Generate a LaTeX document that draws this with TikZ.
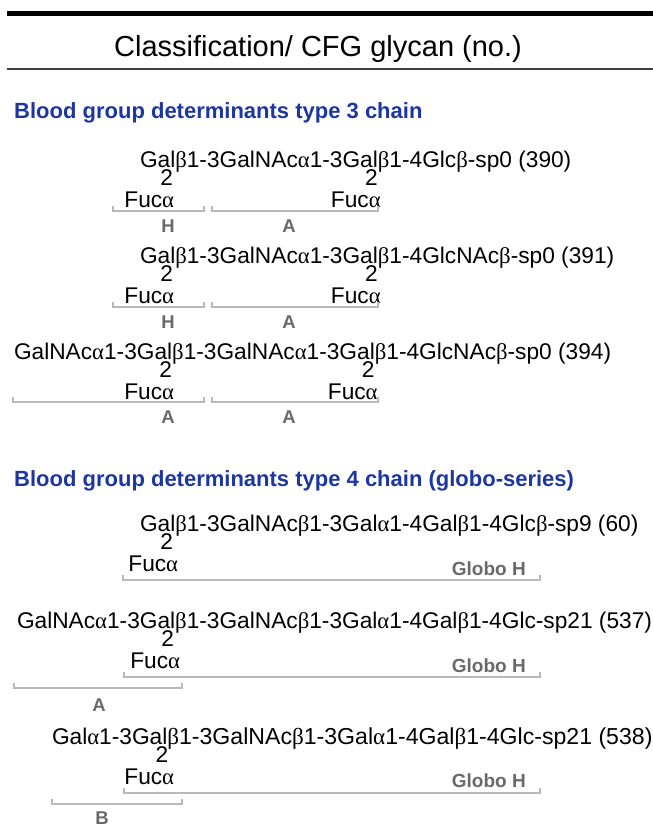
\documentclass[tikz,border=0pt]{standalone}
\usepackage{fontspec}
\setmainfont{Liberation Sans}
\newfontfamily\gkfont{Liberation Serif}
\newcommand{\galpha}{{\gkfont α}}
\newcommand{\gbeta}{{\gkfont β}}
\usetikzlibrary{calc}
\definecolor{headblue}{RGB}{30,55,160}
\definecolor{labgray}{RGB}{105,105,105}
\definecolor{brkgray}{RGB}{185,185,185}
\begin{document}
\begin{tikzpicture}[x=1pt,y=-1pt,
  gly/.style={anchor=base west,inner sep=0pt,outer sep=0pt,font=\fontsize{22.7}{24}\selectfont},
  two/.style={anchor=base,inner sep=0pt,font=\fontsize{22.7}{24}\selectfont},
  fuc/.style={anchor=base east,inner sep=0pt,font=\fontsize{22.7}{24}\selectfont},
  head/.style={anchor=base west,inner sep=0pt,text=headblue,font=\bfseries\fontsize{22}{24}\selectfont},
  lab/.style={anchor=base,inner sep=0pt,text=labgray,font=\bfseries\fontsize{18.5}{20}\selectfont},
  globo/.style={anchor=base east,inner sep=0pt,text=labgray,font=\bfseries\fontsize{19}{20}\selectfont},
  brk/.style={draw=brkgray,line width=1.4pt}]
\useasboundingbox (0,0) rectangle (653,830);
\fill[white] (0,0) rectangle (653,830);
% header
\draw[line width=5pt] (7,13) -- (653,13);
\node[anchor=base,inner sep=0pt,font=\fontsize{29}{30}\selectfont] (title) at (318,56) {Classification/ CFG glycan (no.)};
\draw[line width=2pt,draw=black!75] (7,69) -- (653,69);
% section 1
\node[head] (h1) at (14,118) {Blood group determinants type 3 chain};
% row 1
\node[gly] (r1a) at (140,167) {Ga};
\node[gly] (r1b) at (r1a.base east) {l};
\node[gly] (r1c) at (r1b.base east) {\gbeta1-3GalNAc\galpha1-3Ga};
\node[gly] (r1d) at (r1c.base east) {l};
\node[gly] (r1e) at (r1d.base east) {\gbeta1-4Glc\gbeta-sp0 (390)};
\node[two] (r1t1) at ($(r1b.base)+(-6,18)$) {2};
\node[two] (r1t2) at ($(r1d.base)+(-4,18)$) {2};
\node[fuc] (r1f1) at ($(r1t1.base east)+(1,22)$) {Fuc\galpha};
\node[fuc] (r1f2) at ($(r1t2.base east)+(3,22)$) {Fuc\galpha};
\draw[brk] (113,206) -- (113,211) -- (204,211) -- (204,206);
\draw[brk] (212,206) -- (212,211) -- (378,211) -- (378,206);
\node[lab] (r1H) at (168,232) {H};
\node[lab] (r1A) at (289,232) {A};
% row 2
\node[gly] (r2a) at (140,263) {Ga};
\node[gly] (r2b) at (r2a.base east) {l};
\node[gly] (r2c) at (r2b.base east) {\gbeta1-3GalNAc\galpha1-3Ga};
\node[gly] (r2d) at (r2c.base east) {l};
\node[gly] (r2e) at (r2d.base east) {\gbeta1-4GlcNAc\gbeta-sp0 (391)};
\node[two] (r2t1) at ($(r2b.base)+(-6,18)$) {2};
\node[two] (r2t2) at ($(r2d.base)+(-4,18)$) {2};
\node[fuc] (r2f1) at ($(r2t1.base east)+(1,22)$) {Fuc\galpha};
\node[fuc] (r2f2) at ($(r2t2.base east)+(3,22)$) {Fuc\galpha};
\draw[brk] (113,302) -- (113,307) -- (204,307) -- (204,302);
\draw[brk] (212,302) -- (212,307) -- (378,307) -- (378,302);
\node[lab] (r2H) at (168,328) {H};
\node[lab] (r2A) at (289,328) {A};
% row 3
\node[gly] (r3a) at (14,359) {GalNAc\galpha1-3Ga};
\node[gly] (r3b) at (r3a.base east) {l};
\node[gly] (r3c) at (r3b.base east) {\gbeta1-3GalNAc\galpha1-3Ga};
\node[gly] (r3d) at (r3c.base east) {l};
\node[gly] (r3e) at (r3d.base east) {\gbeta1-4GlcNAc\gbeta-sp0 (394)};
\node[two] (r3t1) at ($(r3b.base)+(-4,18)$) {2};
\node[two] (r3t2) at ($(r3d.base)+(-4,18)$) {2};
\node[fuc] (r3f1) at ($(r3t1.base east)+(2,22)$) {Fuc\galpha};
\node[fuc] (r3f2) at ($(r3t2.base east)+(3,22)$) {Fuc\galpha};
\draw[brk] (13,397) -- (13,402) -- (204,402) -- (204,397);
\draw[brk] (212,397) -- (212,402) -- (378,402) -- (378,397);
\node[lab] (r3A1) at (168,423) {A};
\node[lab] (r3A2) at (289,423) {A};
% section 2
\node[head] (h2) at (14,486) {Blood group determinants type 4 chain (globo-series)};
% row 4
\node[gly] (r4a) at (140,531) {Ga};
\node[gly] (r4b) at (r4a.base east) {l};
\node[gly] (r4c) at (r4b.base east) {\gbeta1-3GalNAc\gbeta1-3Gal\galpha1-4Gal\gbeta1-4Glc\gbeta-sp9 (60)};
\node[two] (r4t1) at ($(r4b.base)+(-6,18)$) {2};
\node[fuc] (r4f1) at ($(r4t1.base east)+(5,22)$) {Fuc\galpha};
\node[globo] (r4g) at (526,575) {Globo H};
\draw[brk] (123,575) -- (123,580) -- (540,580) -- (540,575);
% row 5
\node[gly] (r5a) at (17,628) {GalNAc\galpha1-3Ga};
\node[gly] (r5b) at (r5a.base east) {l};
\node[gly] (r5c) at (r5b.base east) {\gbeta1-3GalNAc\gbeta1-3Gal\galpha1-4Gal\gbeta1-4Glc-sp21 (537)};
\node[two] (r5t1) at ($(r5b.base)+(-5,18)$) {2};
\node[fuc] (r5f1) at ($(r5t1.base east)+(6,22)$) {Fuc\galpha};
\node[globo] (r5g) at (526,672) {Globo H};
\draw[brk] (124,672) -- (124,677) -- (540,677) -- (540,672);
\draw[brk] (14,683) -- (14,688) -- (182,688) -- (182,683);
\node[lab] (r5A) at (99,711) {A};
% row 6
\node[gly] (r6a) at (52,744) {Gal\galpha1-3Ga};
\node[gly] (r6b) at (r6a.base east) {l};
\node[gly,font=\fontsize{23.1}{24}\selectfont] (r6c) at (r6b.base east) {\gbeta1-3GalNAc\gbeta1-3Gal\galpha1-4Gal\gbeta1-4Glc-sp21 (538)};
\node[two] (r6t1) at ($(r6b.base)+(-3,18)$) {2};
\node[fuc] (r6f1) at ($(r6t1.base east)+(6,22)$) {Fuc\galpha};
\node[globo] (r6g) at (526,787) {Globo H};
\draw[brk] (124,788) -- (124,793) -- (540,793) -- (540,788);
\draw[brk] (52,799) -- (52,804) -- (182,804) -- (182,799);
\node[lab] (r6B) at (102,824) {B};
\end{tikzpicture}
\end{document}
